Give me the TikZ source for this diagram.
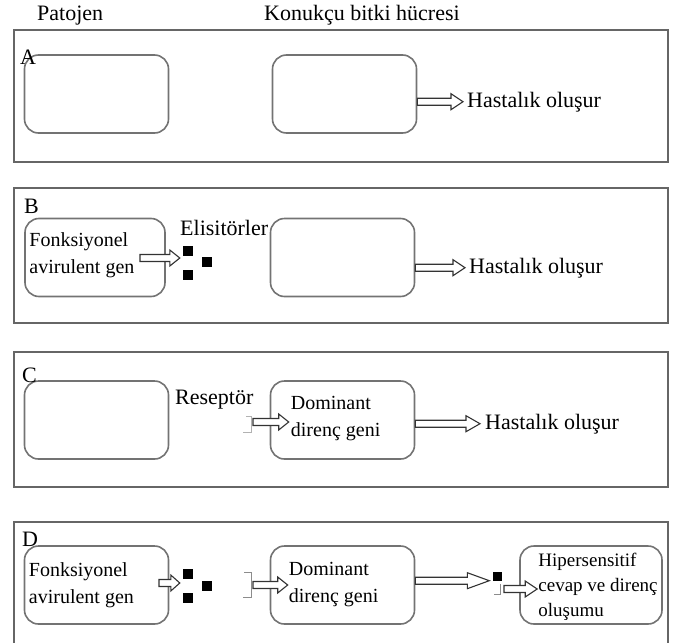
\documentclass[tikz,border=0pt]{standalone}
\usepackage{fontspec}
\setmainfont{Liberation Serif}
\usetikzlibrary{calc,positioning}
\tikzset{
  frame/.style={draw=black!60,line width=1.3pt},
  cell/.style={draw=black!55,line width=1.6pt,rounded corners=14pt,minimum width=144pt,minimum height=78pt,inner sep=0pt},
  lbl/.style={font=\fontsize{22}{25}\selectfont,inner sep=0pt},
  celltext/.style={font=\fontsize{20}{27}\selectfont,inner sep=0pt,align=left},
  harrow/.style={draw=black!80,line width=1.1pt,fill=white,line join=miter},
  elicitor/.style={rectangle,fill=black,minimum size=10pt,inner sep=0pt},
  receptor/.style={draw=black!45,line width=1pt}
}
% hollow block arrow, [head length]{from}{to}
\newcommand{\hollowarrow}[3][10]{%
  \draw[harrow] let \p1=(#2), \p2=(#3) in
    (\x1,\y1+3.5) -- (\x2-#1,\y1+3.5) -- (\x2-#1,\y1+8) -- (\x2,\y1)
    -- (\x2-#1,\y1-8) -- (\x2-#1,\y1-3.5) -- (\x1,\y1-3.5) -- cycle;}

\begin{document}
\begin{tikzpicture}[x=1pt,y=-1pt]
  \useasboundingbox (0,0) rectangle (676,642);

  % column heads
  \node[lbl,anchor=base west] (patojen) at (37,21) {Patojen};
  \node[lbl,anchor=base west] (konukcu) at (264,21) {Konukçu bitki hücresi};

  % panel A
  \draw[frame] (14,30) rectangle (668,162);
  \node[cell] (cA1) at (96.5,94) {};
  \node[cell] (cA2) at (344.5,94) {};
  \node[lbl,anchor=base west] (lA) at (20,64) {A};
  \node[lbl,anchor=base west] (sA) at (467,107) {Hastalık oluşur};
  \hollowarrow[12]{cA2.east |- sA.west}{[xshift=-4pt]sA.west}

  % panel B
  \draw[frame] (14,188) rectangle (668,323);
  \node[cell,minimum width=140pt] (cB1) at (95,257.5) {};
  \node[cell] (cB2) at (342.5,257.5) {};
  \node[lbl,anchor=base west] (lB) at (24,213) {B};
  \node[celltext,anchor=west] (tB1) at ([xshift=5pt,yshift=2pt]cB1.west) {Fonksiyonel\\avirulent gen};
  \node[lbl,anchor=base west] (elisitor) at (180,235) {Elisitörler};
  \node[elicitor] (eB1) at (188,251) {};
  \node[elicitor] (eB2) at (207,262) {};
  \node[elicitor] (eB3) at (188,275) {};
  \coordinate (gB) at (140,258);
  \hollowarrow[10]{gB}{[xshift=-3pt]eB1.south west |- gB}
  \node[lbl,anchor=base west] (sB) at (469,273) {Hastalık oluşur};
  \hollowarrow[12]{cB2.east |- sB.west}{[xshift=-4pt]sB.west}

  % panel C
  \draw[frame] (14,352) rectangle (668,487);
  \node[cell] (cC1) at (96.5,420) {};
  \node[cell] (cC2) at (342.5,420) {};
  \node[lbl,anchor=base west] (lC) at (22,382) {C};
  \node[lbl,anchor=base west] (reseptor) at (175,404) {Reseptör};
  \node[celltext,anchor=west] (tC2) at ([xshift=21pt,yshift=1pt]cC2.west) {Dominant\\direnç geni};
  \draw[receptor,black!30] (246,416) -- (251,416) -- (251,432) -- (243,432);
  \coordinate (rC) at (253,422);
  \hollowarrow[10]{rC}{[xshift=-2pt]tC2.west |- rC}
  \node[lbl,anchor=base west] (sC) at (485,429) {Hastalık oluşur};
  \hollowarrow[14]{cC2.east |- sC.west}{[xshift=-5pt]sC.west}

  % panel D
  \draw[frame] (14,650) -- (14,522) -- (668,522) -- (668,650);
  \node[cell] (cD1) at (96.5,585) {};
  \node[cell] (cD2) at (342.5,585) {};
  \node[cell,minimum width=142pt] (cD3) at (591,585) {};
  \node[lbl,anchor=base west] (lD) at (22,546) {D};
  \node[celltext,anchor=west] (tD1) at ([xshift=5pt]cD1.west) {Fonksiyonel\\avirulent gen};
  \node[elicitor] (eD1) at (188,574) {};
  \node[elicitor] (eD2) at (207,586) {};
  \node[elicitor] (eD3) at (188,598) {};
  \coordinate (gD) at (159,583);
  \hollowarrow[9]{gD}{[xshift=-3pt]eD1.south west |- gD}
  \draw[receptor] (244,572) -- (251,572) -- (251,597) -- (243,597);
  \coordinate (rD) at (253,585);
  \node[celltext,anchor=west] (tD2) at ([xshift=19pt]cD2.west) {Dominant\\direnç geni};
  \hollowarrow[10]{rD}{[xshift=-1pt]tD2.west |- rD}
  \node[elicitor,minimum size=9pt] (eD4) at (497,576) {};
  \draw[receptor] (494,594) -- (500,594) -- (500,584);
  \hollowarrow[22]{cD2.east |- eD4.south}{[xshift=-3pt]eD4.west |- eD4.south}
  \node[celltext,font=\fontsize{19}{25}\selectfont,anchor=west] (tD3) at ([xshift=19pt,yshift=-2pt]cD3.west) {Hipersensitif\\cevap ve direnç\\oluşumu};
  \coordinate (rD3) at (504,589);
  \hollowarrow[12]{rD3}{[xshift=-1pt]tD3.west |- rD3}
\end{tikzpicture}
\end{document}
